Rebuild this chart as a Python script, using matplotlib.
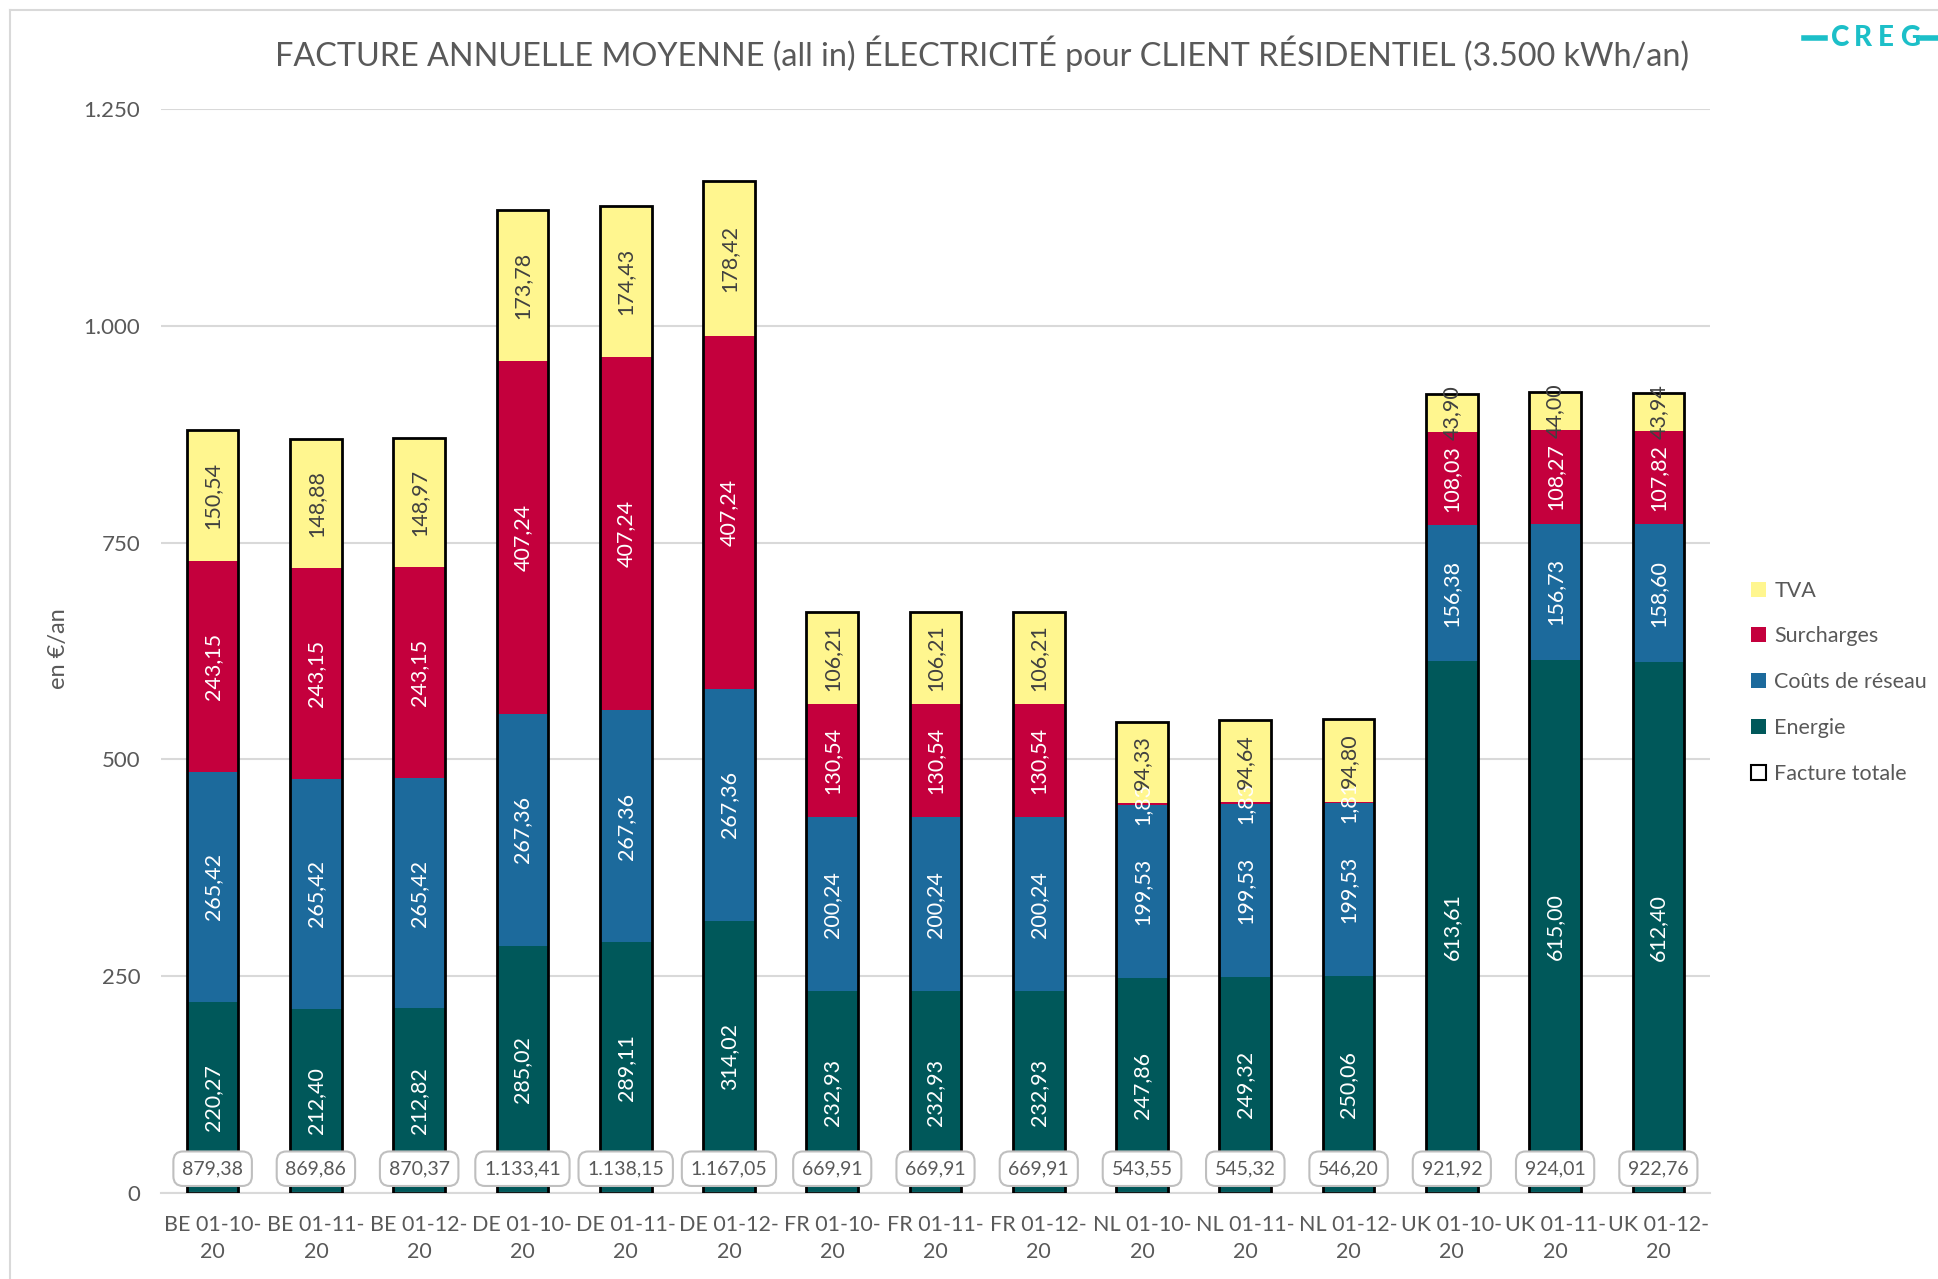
import matplotlib
matplotlib.use("Agg")
import matplotlib.pyplot as plt
from matplotlib.patches import Patch
from matplotlib.lines import Line2D
import numpy as np

categories = ["BE 01-10-\n20", "BE 01-11-\n20", "BE 01-12-\n20",
              "DE 01-10-\n20", "DE 01-11-\n20", "DE 01-12-\n20",
              "FR 01-10-\n20", "FR 01-11-\n20", "FR 01-12-\n20",
              "NL 01-10-\n20", "NL 01-11-\n20", "NL 01-12-\n20",
              "UK 01-10-\n20", "UK 01-11-\n20", "UK 01-12-\n20"]
energie = [220.27, 212.40, 212.82, 285.02, 289.11, 314.02, 232.93, 232.93, 232.93,
           247.86, 249.32, 250.06, 613.61, 615.00, 612.40]
reseau = [265.42, 265.42, 265.42, 267.36, 267.36, 267.36, 200.24, 200.24, 200.24,
          199.53, 199.53, 199.53, 156.38, 156.73, 158.60]
surcharges = [243.15, 243.15, 243.15, 407.24, 407.24, 407.24, 130.54, 130.54, 130.54,
              1.83, 1.83, 1.81, 108.03, 108.27, 107.82]
tva = [150.54, 148.88, 148.97, 173.78, 174.43, 178.42, 106.21, 106.21, 106.21,
       94.33, 94.64, 94.80, 43.90, 44.00, 43.94]
totale = [879.38, 869.86, 870.37, 1133.41, 1138.15, 1167.05, 669.91, 669.91, 669.91,
          543.55, 545.32, 546.20, 921.92, 924.01, 922.76]
yticks = [0, 250, 500, 750, 1000, 1250]
ytick_labels = ["0", "250", "500", "750", "1.000", "1.250"]

FONT = ["Lato", "DejaVu Sans"]
plt.rcParams["font.family"] = FONT
GRAY = "#595959"

c_energie = "#00585A"
c_reseau = "#1C6A9C"
c_surch = "#C4003D"
c_tva = "#FFF68F"


def fmt(v):
    s = f"{v:,.2f}"
    return s.replace(",", "X").replace(".", ",").replace("X", ".")


fig = plt.figure(figsize=(19.38, 12.79), dpi=100)
ax = fig.add_axes([161 / 1938, 1 - 1193 / 1279, 1549 / 1938, (1193 - 109) / 1279])

x = np.arange(len(categories))
w = 0.5
series = [(energie, c_energie, "Energie", "white"),
          (reseau, c_reseau, "Coûts de réseau", "white"),
          (surcharges, c_surch, "Surcharges", "white"),
          (tva, c_tva, "TVA", "#404040")]
bottom = np.zeros(len(categories))
for vals, col, lab, tcol in series:
    vals = np.array(vals)
    ax.bar(x, vals, w, bottom=bottom, color=col, edgecolor="none", zorder=2)
    for xi, b, v in zip(x, bottom, vals):
        ax.text(xi, b + v / 2, fmt(v), rotation=90, ha="center", va="center",
                color=tcol, fontsize=15.5, zorder=4)
    bottom = bottom + vals

# total outline
ax.bar(x, totale, w, color="none", edgecolor="black", linewidth=2, zorder=3)
for xi, t in zip(x, totale):
    ax.text(xi, 28, fmt(t), ha="center", va="center", fontsize=14, color=GRAY, zorder=5,
            bbox=dict(boxstyle="round,pad=0.45,rounding_size=0.5", fc="white",
                      ec="#BFBFBF", lw=1.5))

ax.set_xlim(-0.5, len(categories) - 0.5)
ax.set_ylim(0, 1250)
ax.set_yticks(yticks)
ax.set_yticklabels(ytick_labels)
ax.set_xticks(x)
ax.set_xticklabels(categories, linespacing=1.45)
ax.tick_params(axis="both", length=0, labelsize=16, colors=GRAY)
ax.tick_params(axis="x", labelsize=15.5, pad=16)
ax.tick_params(axis="y", pad=15)
ax.grid(axis="y", color="#D9D9D9", lw=1.5, zorder=0)
for s in ["top", "right", "left"]:
    ax.spines[s].set_visible(False)
ax.spines["bottom"].set_color("#D9D9D9")
ax.spines["bottom"].set_linewidth(1.5)
ax.set_axisbelow(True)

fig.text(59 / 1938, 1 - 649 / 1279, "en €/an", rotation=90, ha="center", va="center",
         fontsize=17, color=GRAY)

fig.text(982 / 1938, 1 - 54 / 1279, "FACTURE ANNUELLE MOYENNE (all in) ÉLECTRICITÉ pour CLIENT RÉSIDENTIEL (3.500 kWh/an)",
         ha="center", va="center", fontsize=23.3, color=GRAY)

# legend
handles = [Patch(facecolor=c_tva, edgecolor="none", label="TVA"),
           Patch(facecolor=c_surch, edgecolor="none", label="Surcharges"),
           Patch(facecolor=c_reseau, edgecolor="none", label="Coûts de réseau"),
           Patch(facecolor=c_energie, edgecolor="none", label="Energie"),
           Patch(facecolor="white", edgecolor="black", linewidth=1.5, label="Facture totale")]
fig.legend(handles=handles, loc="upper left", bbox_to_anchor=(1742 / 1938, 1 - 572 / 1279),
           frameon=False, fontsize=15.5, labelcolor=GRAY, handlelength=0.7, handleheight=0.7,
           handletextpad=0.4, labelspacing=1.2, borderaxespad=0)

# frame lines
fig.add_artist(Line2D([10 / 1938, 10 / 1938], [0, 1 - 10 / 1279], transform=fig.transFigure,
                      color="#D9D9D9", lw=1.5))
fig.add_artist(Line2D([10 / 1938, 1], [1 - 10 / 1279, 1 - 10 / 1279], transform=fig.transFigure,
                      color="#D9D9D9", lw=1.5))

# logo
LOGO = "#1CBFC8"
ly = 1 - 38 / 1279
for ch, lx in zip("CREG", [1840, 1863, 1886, 1910]):
    fig.text(lx / 1938, ly, ch, ha="center", va="center", fontsize=20,
             fontweight="black", color=LOGO)
fig.add_artist(Line2D([1804 / 1938, 1825 / 1938], [ly, ly], transform=fig.transFigure,
                      color=LOGO, lw=4))
fig.add_artist(Line2D([1922 / 1938, 1938 / 1938], [ly, ly], transform=fig.transFigure,
                      color=LOGO, lw=4))

fig.savefig("out.png", dpi=100)
